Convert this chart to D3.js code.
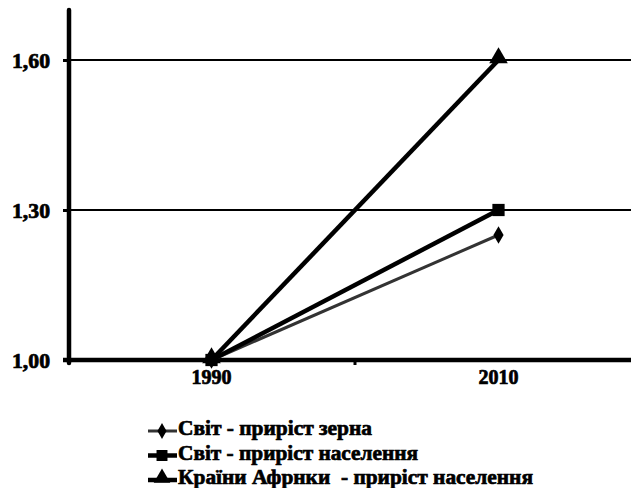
<!DOCTYPE html>
<html><head><meta charset="utf-8">
<script src="https://cdn.jsdelivr.net/npm/d3@7"></script>
<style>body{margin:0;background:#fff}svg{display:block}svg text{font-family:"Liberation Serif","Times New Roman",serif !important;font-weight:bold;fill:#000;stroke:#000;stroke-width:0.7px;white-space:pre}</style>
</head><body>
<script>
const years = ["1990", "2010"];
const yTicks = [1.00, 1.30, 1.60];
const seriesNames = ["Світ - приріст зерна", "Світ - приріст населення", "Країни Афрнки  - приріст населення"];
const grainWorld = [1.00, 1.25];
const popWorld = [1.00, 1.30];
const popAfrica = [1.00, 1.60];

const W = 631, H = 488;
const svg = d3.select("body").append("svg").attr("width", W).attr("height", H);
const x = d3.scaleBand().domain(years).range([68, 642]);
const y = d3.scaleLinear().domain([1.0, 1.7]).range([360, 10]);
const fmt = d => d.toFixed(2).replace(".", ",");

// gridlines
svg.append("g").selectAll("line").data(yTicks.filter(t => t > 1)).join("line")
  .attr("x1", 69).attr("x2", W).attr("y1", d => y(d)).attr("y2", d => y(d))
  .attr("stroke", "#000").attr("stroke-width", 2.2);

// y axis
const ya = svg.append("g").attr("transform", "translate(69,0)")
  .call(d3.axisLeft(y).tickValues(yTicks).tickFormat(fmt).tickSize(6).tickPadding(13));
ya.select(".domain").attr("d", `M0,${y(1.7)}V${y(1.0) + 3}`).attr("stroke-width", 4.5).attr("stroke-linecap", "round");
ya.selectAll(".tick line").attr("stroke-width", 3);
ya.selectAll(".tick text").style("font-size", "20px").attr("dy", "0.35em").attr("textLength", 38).attr("lengthAdjust", "spacingAndGlyphs");

// x axis
const xa = svg.append("g").attr("transform", `translate(0,${y(1.0)})`)
  .call(d3.axisBottom(x).tickSize(0).tickPadding(17));
xa.select(".domain").attr("d", `M63,0H${W}`).attr("stroke-width", 4.5);
xa.selectAll(".tick text").style("font-size", "20px").attr("dy", "0.35em");
svg.append("line").attr("x1", x("2010")).attr("x2", x("2010")).attr("y1", y(1.0)).attr("y2", y(1.0) + 5)
  .attr("stroke", "#000").attr("stroke-width", 3);

const data = [
  {name: seriesNames[0], vals: grainWorld, color: "#333", sw: 3, sym: d3.symbolDiamond, size: 90},
  {name: seriesNames[1], vals: popWorld, color: "#000", sw: 4.5, sym: d3.symbolSquare, size: 150},
  {name: seriesNames[2], vals: popAfrica, color: "#000", sw: 4.5, sym: d3.symbolTriangle, size: 150}
];
const cx = yr => x(yr) + x.bandwidth() / 2;
const line = d3.line().x((d, i) => cx(years[i])).y(d => y(d));

data.forEach(s => {
  svg.append("path").attr("d", line(s.vals)).attr("fill", "none")
    .attr("stroke", s.color).attr("stroke-width", s.sw);
});
data.forEach(s => {
  svg.append("g").selectAll("path").data(s.vals).join("path")
    .attr("transform", (d, i) => `translate(${cx(years[i])},${y(d) - (s.sym === d3.symbolTriangle ? 2 : 0)})`)
    .attr("d", d3.symbol().type(s.sym).size(s.size)).attr("fill", "#000");
});

// legend
const lg = svg.append("g");
const legendLen = [194, 240, 355];
data.forEach((s, i) => {
  const ly = 428 + i * 24.5;
  const g = lg.append("g").attr("transform", `translate(0,${ly})`);
  g.append("line").attr("x1", 148).attr("x2", 177).attr("y1", 3).attr("y2", 3)
    .attr("stroke", s.color).attr("stroke-width", s.sw);
  g.append("path").attr("transform", `translate(162,${s.sym === d3.symbolTriangle ? 1 : 3})`)
    .attr("d", d3.symbol().type(s.sym).size(s.size * 0.8)).attr("fill", "#000");
  g.append("text").attr("x", 178).attr("y", 0).attr("dy", "0.35em").style("font-size", "21px")
    .attr("xml:space", "preserve").attr("textLength", legendLen[i]).attr("lengthAdjust", "spacingAndGlyphs")
    .text(s.name);
});
</script>
</body></html>
